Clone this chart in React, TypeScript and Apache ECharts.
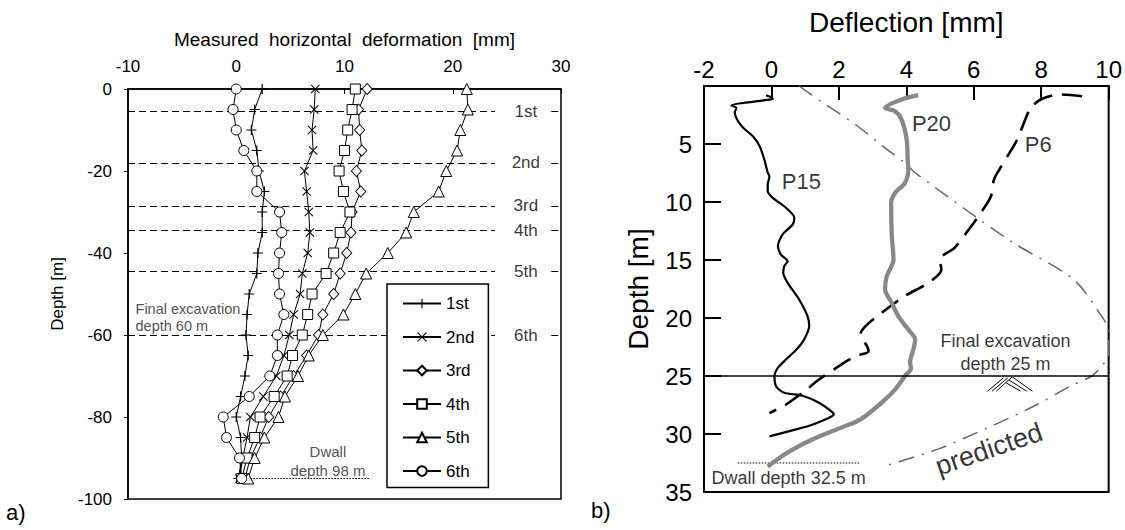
import React, { useEffect, useRef } from "react";
import * as echarts from "echarts";

const FONT = "Liberation Sans, Arial, Helvetica, sans-serif";

// ---------- Panel a) data ----------
const STAGES = ["1st", "2nd", "3rd", "4th", "5th", "6th"];
const DEPTHS = [0, -5, -10, -15, -20, -25, -30, -35, -40, -45, -50, -55, -60, -65, -70, -75, -80, -85, -90, -95];
const DEF_1ST = [2.4, 1.7, 1.4, 1.9, 2.1, 2.6, 2.4, 2.4, 2.0, 1.9, 1.2, 1.0, 0.9, 1.1, 0.8, 0.4, 0.0, 0.4, 0.5, 0.2];
const DEF_2ND = [7.3, 7.2, 7.0, 7.1, 6.3, 6.5, 6.7, 6.8, 6.6, 6.1, 5.9, 5.3, 4.9, 4.4, 3.7, 2.5, 1.3, 1.0, 0.6, 0.3];
const DEF_3RD = [12.1, 11.3, 11.4, 11.6, 11.1, 11.5, 10.7, 10.6, 10.2, 9.6, 9.0, 8.0, 7.6, 6.5, 5.3, 4.1, 3.0, 2.2, 1.3, 0.8];
const DEF_4TH = [11.0, 10.7, 10.3, 10.0, 9.5, 9.9, 10.5, 9.6, 9.0, 8.3, 7.0, 6.6, 6.1, 5.2, 4.7, 3.5, 2.2, 1.7, 1.0, 0.5];
const DEF_5TH = [21.3, 21.4, 20.7, 20.4, 19.4, 18.7, 16.4, 15.7, 14.0, 12.0, 11.0, 9.9, 8.0, 6.7, 5.7, 4.5, 3.9, 2.6, 1.7, 1.1];
const DEF_6TH = [0.0, -0.3, 0.0, 0.7, 1.9, 1.9, 4.0, 4.2, 4.0, 3.9, 4.0, 4.4, 3.8, 3.8, 3.1, 1.2, -1.2, -0.9, 0.3, 0.5];
const STAGE_DEPTHS = [-5.5, -18, -28.5, -34.5, -44.5, -60];
const DWALL_A = [[0.2, -95], [12.3, -95]];

// ---------- Panel b) data ----------
const P15 = [[-0.16, 0.79], [0.04, 1.08], [-0.01, 1.16], [-1.19, 1.68], [-1.04, 1.88], [-1.09, 2.31], [-1.02, 2.89], [-0.84, 3.6], [-0.55, 4.33], [-0.35, 5.19], [-0.21, 6.34], [-0.11, 7.48], [-0.06, 7.77], [-0.11, 8.49], [-0.11, 9.07], [0.04, 9.64], [0.43, 10.5], [0.68, 11.36], [0.63, 11.94], [0.33, 12.8], [0.19, 13.8], [0.28, 14.53], [0.48, 15.1], [0.38, 15.53], [0.35, 16.1], [0.48, 16.97], [0.82, 18.4], [1.07, 19.84], [1.12, 20.7], [0.97, 21.85], [0.75, 22.7], [0.43, 23.58], [0.19, 24.3], [0.09, 25.0], [0.14, 25.9], [0.38, 26.45], [0.92, 26.7], [1.41, 27.3], [1.76, 28.0], [1.85, 28.3], [1.71, 28.6], [1.21, 29.2], [0.73, 29.6], [-0.06, 30.2]];
const P20 = [[4.35, 0.79], [3.86, 1.16], [3.37, 1.88], [3.67, 2.17], [3.86, 2.89], [4.01, 4.61], [4.04, 6.34], [4.06, 7.2], [3.96, 8.35], [3.67, 9.2], [3.55, 10.07], [3.57, 12.95], [3.62, 14.96], [3.42, 16.4], [3.37, 17.54], [3.57, 18.7], [3.76, 19.84], [4.06, 21.0], [4.26, 21.85], [4.21, 22.7], [4.11, 23.86], [4.14, 24.3], [3.96, 25.0], [3.67, 26.16], [3.27, 27.3], [2.79, 28.45], [2.54, 28.9], [2.2, 29.3], [1.21, 30.47], [0.53, 31.5], [-0.11, 32.8]];
const P6 = [[9.21, 0.88], [8.57, 0.73], [8.03, 1.1], [7.69, 1.88], [7.49, 3.17], [7.29, 4.61], [7.0, 6.05], [6.76, 7.2], [6.6, 8.06], [6.51, 9.5], [6.21, 10.93], [5.82, 12.5], [5.43, 13.95], [4.99, 14.96], [5.04, 15.82], [4.65, 16.97], [3.96, 18.1], [3.27, 19.55], [2.79, 20.7], [2.64, 21.4], [2.83, 22.4], [2.88, 22.86], [2.49, 23.3], [2.0, 24.15], [1.41, 25.3], [0.92, 26.45], [0.43, 27.46], [-0.06, 28.2]];
const PREDICTED = [[0.82, 0.0], [1.46, 1.31], [2.49, 3.32], [3.37, 5.33], [4.01, 6.77], [4.26, 7.48], [7.1, 13.38], [8.96, 16.68], [9.79, 19.84], [9.99, 21.0], [10.0, 22.2], [9.99, 23.3], [9.79, 24.15], [9.5, 25.0], [8.86, 25.88], [7.88, 27.46], [6.41, 29.47], [4.94, 31.3], [3.32, 32.8]];
const EXCAVATION_B = 25;
const DWALL_B = [[-1.0, 32.5], [2.64, 32.5]];
const HATCH = [
  [[6.41, 26.31], [6.88, 25.16]],
  [[6.54, 26.31], [7.01, 25.16]],
  [[6.67, 26.31], [7.14, 25.07]],
  [[7.14, 25.07], [7.74, 26.31]],
  [[7.05, 25.36], [7.57, 26.31]],
  [[6.96, 25.59], [7.39, 26.31]],
];

const SYM_PLUS = "path://M4.4,0H5.6V10H4.4Z M0,4.4H10V5.6H0Z";
const SYM_CROSS = "path://M0.8,0L10,9.2L9.2,10L0,0.8Z M9.2,0L10,0.8L0.8,10L0,9.2Z";

function buildOption() {
  const values = [DEF_1ST, DEF_2ND, DEF_3RD, DEF_4TH, DEF_5TH, DEF_6TH];
  const symbols = [SYM_PLUS, SYM_CROSS, "diamond", "rect", "triangle", "circle"];
  const sizes = [10, 9, [10, 11], 10, 11, 10];
  const filled = [true, true, false, false, false, false];

  // layout of the stage labels on panel a (x in data units)
  const labelX = 26.75;
  const gapStart = 23.9;
  const gapEnd = 29.1;

  const stageSeries = STAGES.map((name, i) => ({
    name,
    type: "line",
    xAxisIndex: 0,
    yAxisIndex: 0,
    data: DEPTHS.map((d, j) => [values[i][j], d]),
    symbol: symbols[i],
    symbolSize: sizes[i],
    showAllSymbol: true,
    lineStyle: { color: "#000", width: 1 },
    itemStyle: filled[i]
      ? { color: "#000", borderWidth: 0 }
      : { color: "#fff", borderColor: "#000", borderWidth: 1 },
    z: 3,
  }));

  const hidden = { color: "rgba(0,0,0,0)" };

  const stageLineData: any[] = [];
  STAGE_DEPTHS.forEach((d) => {
    stageLineData.push({ coords: [[-10, d], [gapStart, d]] });
    stageLineData.push({ coords: [[gapEnd, d], [30, d]] });
  });

  const series: any[] = [
    {
      type: "lines",
      coordinateSystem: "cartesian2d",
      xAxisIndex: 0,
      yAxisIndex: 0,
      data: stageLineData,
      lineStyle: { color: "#000", width: 1.2, type: [7, 4], opacity: 1 },
      z: 1,
    },
    ...stageSeries,
    {
      type: "scatter",
      xAxisIndex: 0,
      yAxisIndex: 0,
      symbolSize: 1,
      itemStyle: hidden,
      z: 4,
      data: STAGE_DEPTHS.map((d, i) => [labelX, d, STAGES[i]]),
      label: {
        show: true,
        position: "inside",
        formatter: (p: any) => p.value[2],
        fontSize: 17,
        fontFamily: FONT,
        color: "#000",
      },
    },
    {
      type: "scatter",
      xAxisIndex: 0,
      yAxisIndex: 0,
      symbolSize: 1,
      itemStyle: hidden,
      z: 4,
      data: [
        {
          value: [-9.35, -55.85],
          label: { show: true, position: "right", distance: 0, formatter: "Final excavation\ndepth 60 m", fontSize: 14.5, lineHeight: 17, color: "#222", fontFamily: FONT },
        },
        {
          value: [8.47, -90.7],
          label: { show: true, position: "inside", formatter: "Dwall\ndepth 98 m", fontSize: 15, lineHeight: 19, color: "#222", fontFamily: FONT, align: "center" },
        },
      ],
    },
    {
      type: "line",
      xAxisIndex: 0,
      yAxisIndex: 0,
      data: DWALL_A,
      symbol: "none",
      lineStyle: { color: "#000", width: 1.2, type: [1.5, 1.5] },
      z: 2,
    },
    // panel b
    {
      type: "line",
      xAxisIndex: 1,
      yAxisIndex: 1,
      data: [],
      z: 1,
      markLine: {
        silent: true,
        symbol: ["none", "none"],
        label: { show: false },
        lineStyle: { color: "#000", type: "solid", width: 1.5 },
        data: [{ yAxis: EXCAVATION_B }],
      },
    },
    {
      type: "line",
      xAxisIndex: 1,
      yAxisIndex: 1,
      data: PREDICTED,
      symbol: "none",
      smooth: 0.3,
      lineStyle: { color: "#666", width: 1.5, type: [16, 8, 2, 8] },
      z: 2,
    },
    {
      type: "line",
      xAxisIndex: 1,
      yAxisIndex: 1,
      data: P6,
      symbol: "none",
      smooth: 0.3,
      lineStyle: { color: "#000", width: 2.6, type: [20, 10] },
      z: 2,
    },
    {
      type: "line",
      xAxisIndex: 1,
      yAxisIndex: 1,
      data: P15,
      symbol: "none",
      smooth: 0.25,
      lineStyle: { color: "#000", width: 2.2 },
      z: 3,
    },
    {
      type: "line",
      xAxisIndex: 1,
      yAxisIndex: 1,
      data: P20,
      symbol: "none",
      smooth: 0.3,
      lineStyle: { color: "#888", width: 4.3 },
      z: 3,
    },
    {
      type: "line",
      xAxisIndex: 1,
      yAxisIndex: 1,
      data: DWALL_B,
      symbol: "none",
      lineStyle: { color: "#000", width: 1.2, type: [1.5, 1.5] },
      z: 2,
    },
    {
      type: "lines",
      coordinateSystem: "cartesian2d",
      xAxisIndex: 1,
      yAxisIndex: 1,
      data: HATCH.map((c) => ({ coords: c })),
      lineStyle: { color: "#000", width: 1, opacity: 1 },
      z: 3,
    },
    {
      type: "scatter",
      xAxisIndex: 1,
      yAxisIndex: 1,
      symbolSize: 1,
      itemStyle: hidden,
      z: 4,
      data: [
        { value: [0.29, 8.26], label: { show: true, position: "right", distance: 0, formatter: "P15", fontSize: 22, color: "#000", fontFamily: FONT } },
        { value: [4.15, 3.23], label: { show: true, position: "right", distance: 0, formatter: "P20", fontSize: 22, color: "#000", fontFamily: FONT } },
        { value: [7.5, 5.04], label: { show: true, position: "right", distance: 0, formatter: "P6", fontSize: 22, color: "#000", fontFamily: FONT } },
        { value: [6.94, 23.0], label: { show: true, position: "inside", formatter: "Final excavation\ndepth 25 m", fontSize: 18, lineHeight: 23, color: "#000", fontFamily: FONT, align: "center" } },
        { value: [-1.79, 33.78], label: { show: true, position: "right", distance: 0, formatter: "Dwall depth 32.5 m", fontSize: 18, color: "#000", fontFamily: FONT } },
        { value: [6.45, 31.3], label: { show: true, position: "inside", formatter: "predicted", fontSize: 27, rotate: 19, color: "#000", fontFamily: FONT } },
      ],
    },
  ];

  return {
    animation: false,
    backgroundColor: "#fff",
    textStyle: { fontFamily: FONT },
    grid: [
      { left: 128, top: 89, width: 433, height: 410, show: true, borderColor: "#000", borderWidth: 1.5, backgroundColor: "transparent" },
      { left: 704, top: 86, width: 408, height: 406, show: true, borderColor: "#000", borderWidth: 2, backgroundColor: "transparent" },
    ],
    xAxis: [
      {
        gridIndex: 0,
        type: "value",
        position: "top",
        min: -10,
        max: 30,
        interval: 10,
        axisLine: { show: true, onZero: false, lineStyle: { color: "#000", width: 1.5 } },
        axisTick: { show: true, inside: true, length: 5, lineStyle: { color: "#000" } },
        axisLabel: { fontSize: 17, color: "#000", margin: 14, fontFamily: FONT },
        splitLine: { show: false },
        name: "Measured  horizontal  deformation  [mm]",
        nameLocation: "middle",
        nameGap: 40,
        nameTextStyle: { fontSize: 19, color: "#000", fontFamily: FONT },
      },
      {
        gridIndex: 1,
        type: "value",
        position: "top",
        min: -2,
        max: 10,
        interval: 2,
        axisLine: { show: true, onZero: false, lineStyle: { color: "#000", width: 2 } },
        axisTick: { show: true, inside: true, length: 14, lineStyle: { color: "#000", width: 2 } },
        axisLabel: { fontSize: 24, color: "#000", margin: 5, fontFamily: FONT },
        splitLine: { show: false },
        name: "Deflection [mm]",
        nameLocation: "middle",
        nameGap: 50,
        nameTextStyle: { fontSize: 28, color: "#000", fontFamily: FONT },
      },
    ],
    yAxis: [
      {
        gridIndex: 0,
        type: "value",
        min: -100,
        max: 0,
        interval: 20,
        axisLine: { show: true, onZero: false, lineStyle: { color: "#000", width: 1.5 } },
        axisTick: { show: true, inside: false, length: 4, lineStyle: { color: "#000" } },
        axisLabel: { fontSize: 17, color: "#000", margin: 16, fontFamily: FONT },
        splitLine: { show: false },
        name: "Depth [m]",
        nameLocation: "middle",
        nameGap: 62,
        nameRotate: 90,
        nameTextStyle: { fontSize: 17, color: "#000", fontFamily: FONT },
      },
      {
        gridIndex: 1,
        type: "value",
        inverse: true,
        min: 0,
        max: 35,
        interval: 5,
        axisLine: { show: true, onZero: false, lineStyle: { color: "#000", width: 2 } },
        axisTick: { show: true, inside: true, length: 17, lineStyle: { color: "#000", width: 2 } },
        axisLabel: { fontSize: 24, color: "#000", margin: 12, showMinLabel: false, fontFamily: FONT },
        splitLine: { show: false },
        name: "Depth [m]",
        nameLocation: "middle",
        nameGap: 52,
        nameRotate: 90,
        nameTextStyle: { fontSize: 28, color: "#000", fontFamily: FONT },
      },
    ],
    legend: {
      data: STAGES,
      orient: "vertical",
      left: 387,
      top: 284,
      padding: [11, 14, 8, 15],
      itemGap: 16.5,
      itemWidth: 38,
      itemHeight: 12,
      backgroundColor: "#fff",
      borderColor: "#000",
      borderWidth: 1.5,
      borderRadius: 0,
      textStyle: { fontSize: 17, color: "#000", fontFamily: FONT },
      z: 6,
    },
    graphic: [
      { type: "text", left: 6, top: 501, style: { text: "a)", fontSize: 22, fill: "#000", fontFamily: FONT } },
      { type: "text", left: 591, top: 499, style: { text: "b)", fontSize: 22, fill: "#000", fontFamily: FONT } },
    ],
    series,
  };
}

export default function App() {
  const ref = useRef<HTMLDivElement>(null);
  useEffect(() => {
    if (!ref.current) return;
    const chart = echarts.init(ref.current, null, { renderer: "svg" });
    chart.setOption(buildOption() as any);
    return () => chart.dispose();
  }, []);
  return (
    <div
      ref={ref}
      style={{ position: "fixed", left: 0, top: 0, width: 1125, height: 530, background: "#fff" }}
    />
  );
}
